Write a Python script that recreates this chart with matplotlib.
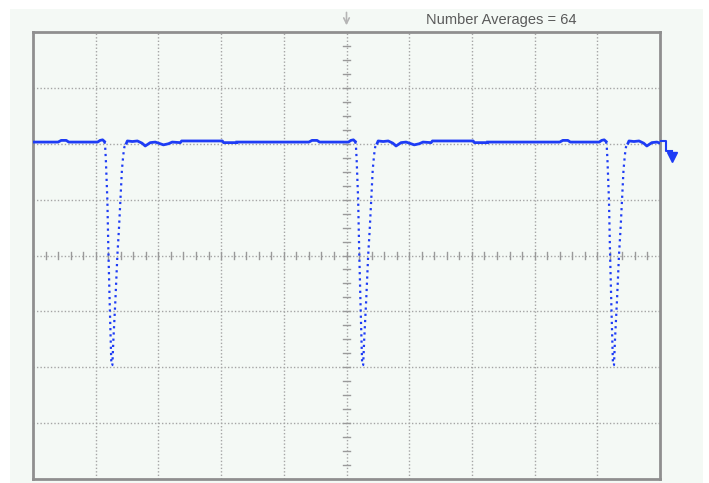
import numpy as np
import matplotlib
matplotlib.use("Agg")
import matplotlib.pyplot as plt
from matplotlib.patches import Rectangle

pulse_centers = [1.25, 5.25, 9.25]

# one period of the trace, time relative to the pulse minimum
pre_t = [-2.00, -1.25, -0.85, -0.80, -0.72, -0.68, -0.30, -0.22, -0.18, -0.14, -0.11]
pre_v = [2.03, 2.03, 2.03, 2.06, 2.06, 2.03, 2.03, 2.03, 2.06, 2.07, 2.04]

dip_t = [-0.11, -0.10, -0.088, -0.064, -0.048, -0.024, 0.0, 0.016, 0.032, 0.064,
         0.096, 0.12, 0.144, 0.168, 0.19, 0.207, 0.24]
dip_v = [2.04, 1.97, 1.71, 0.99, 0.10, -0.97, -1.96, -1.96, -1.51, -0.80,
         0.01, 0.46, 0.99, 1.53, 1.80, 1.94, 2.01]

post_t = [0.24, 0.255, 0.335, 0.415, 0.49, 0.54, 0.62, 0.70, 0.78, 0.83,
          0.91, 0.97, 1.10, 1.12, 1.77, 1.79, 2.00]
post_v = [2.01, 2.05, 2.04, 2.05, 2.01, 1.96, 2.02, 2.03, 2.00, 1.98,
          2.00, 2.03, 2.02, 2.05, 2.05, 2.02, 2.02]

label = "Number Averages = 64"

trace_col = "#1e3cf5"
grid_col = "#a5a5a5"
panel_col = "#f4f9f5"

fig = plt.figure(figsize=(7.09, 4.83), dpi=100, facecolor="white")
W, H = 709, 483
fig.patches.append(Rectangle((10 / W, 0), 693 / W, 474 / H, transform=fig.transFigure,
                             facecolor=panel_col, edgecolor="none", zorder=-10))

ax = fig.add_axes([33 / W, 4 / H, 627 / W, 447 / H])
ax.set_facecolor(panel_col)
ax.set_xlim(0, 10)
ax.set_ylim(-4, 4)
ax.set_xticks([])
ax.set_yticks([])
for s in ax.spines.values():
    s.set_color("#8f8f8f")
    s.set_linewidth(2)

# graticule
for gx in range(1, 10):
    ax.axvline(gx, color=grid_col, lw=1, ls=(0, (1, 1.5)), zorder=1)
for gy in range(-3, 4):
    ax.axhline(gy, color=grid_col, lw=1, ls=(0, (1, 1.5)), zorder=1)

for tx in np.arange(0.2, 10, 0.2):
    ax.plot([tx, tx], [-0.07, 0.07], color="#9a9a9a", lw=1, zorder=1)
for ty in np.arange(-3.75, 4, 0.25):
    ax.plot([4.94, 5.06], [ty, ty], color="#9a9a9a", lw=1, zorder=1)

# trace
for c in pulse_centers:
    ax.plot(np.array(pre_t) + c, pre_v, color=trace_col, lw=2, zorder=3)
    ax.plot(np.array(dip_t) + c, dip_v, color=trace_col, lw=1.6,
            ls=(0, (1, 1.8)), zorder=3)
    ax.plot(np.array(post_t) + c, post_v, color=trace_col, lw=2, zorder=3)

# channel level marker on the right
ax.plot([10.02, 10.10, 10.10, 10.19], [2.05, 2.05, 1.87, 1.87], color=trace_col,
        lw=1.5, clip_on=False, zorder=4)
ax.plot([10.19], [1.76], marker="v", ms=7, color=trace_col, clip_on=False, zorder=4)

# trigger position marker on top
ax.annotate("", xy=(5, 4.07), xytext=(5, 4.4), xycoords="data",
            arrowprops=dict(arrowstyle="->", color="#b5b5b5", lw=1.2),
            annotation_clip=False)

fig.text(426 / W, 1 - 20 / H, label, ha="left", va="center", fontsize=10.5,
         color="#5a5a5a", family=["Liberation Sans Narrow", "Liberation Sans", "DejaVu Sans"])

fig.savefig("out.png", dpi=100, facecolor="white")
